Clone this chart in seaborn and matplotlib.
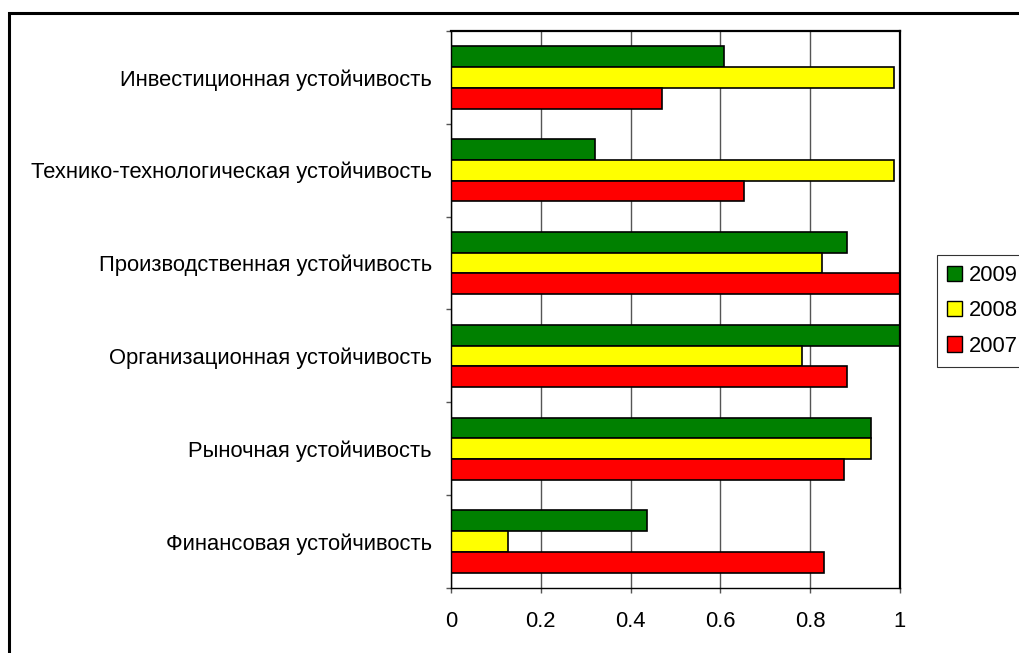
import matplotlib
matplotlib.use("Agg")
import matplotlib.pyplot as plt
from matplotlib.patches import Patch, Rectangle
import pandas as pd
import seaborn as sns

categories = [
    "Инвестиционная устойчивость",
    "Технико-технологическая устойчивость",
    "Производственная устойчивость",
    "Организационная устойчивость",
    "Рыночная устойчивость",
    "Финансовая устойчивость",
]
years = ["2009", "2008", "2007"]
values_2009 = [0.608, 0.321, 0.883, 1.000, 0.935, 0.436]
values_2008 = [0.987, 0.987, 0.826, 0.781, 0.935, 0.128]
values_2007 = [0.471, 0.653, 1.000, 0.883, 0.875, 0.831]
x_ticks = [0, 0.2, 0.4, 0.6, 0.8, 1]
x_tick_labels = ["0", "0.2", "0.4", "0.6", "0.8", "1"]
colors = {"2009": "#008000", "2008": "#FFFF00", "2007": "#FF0000"}

rows = []
for year, vals in zip(years, [values_2009, values_2008, values_2007]):
    for cat, v in zip(categories, vals):
        rows.append({"category": cat, "year": year, "value": v})
df = pd.DataFrame(rows)

sns.set_theme(style="white")
plt.rcParams["font.family"] = ["Liberation Sans", "DejaVu Sans"]
plt.rcParams["text.color"] = "black"

FS = 15.8
W, H = 1020, 653
fig = plt.figure(figsize=(W / 100, H / 100), dpi=100)
ax = fig.add_axes([451 / W, 1 - 588 / H, (900 - 451) / W, (588 - 31) / H])

sns.barplot(data=df, y="category", x="value", hue="year", order=categories,
            hue_order=years, palette=colors, orient="h", width=0.67,
            edgecolor="black", linewidth=1.2, saturation=1, ax=ax, legend=False)

ax.set_xlim(0, 1)
ax.set_ylim(len(categories) - 0.5, -0.5)
ax.set_xlabel("")
ax.set_ylabel("")

# vertical grid lines
ax.set_xticks(x_ticks)
ax.set_xticklabels(x_tick_labels, fontsize=FS)
ax.xaxis.grid(True, color="#555555", linewidth=1.0)
ax.yaxis.grid(False)
ax.set_axisbelow(True)
ax.tick_params(axis="x", bottom=True, length=3.6, width=1, color="#555555",
               pad=13, labelcolor="black")

# category labels centred, tick marks between groups
ax.set_yticks(range(len(categories)))
ax.set_yticklabels(categories, fontsize=FS)
ax.set_yticks([i - 0.5 for i in range(len(categories) + 1)], minor=True)
ax.tick_params(axis="y", which="major", left=False, length=0, pad=13.7,
               labelcolor="black")
ax.tick_params(axis="y", which="minor", left=True, length=3.6, width=1, color="#555555")

for side, sp in ax.spines.items():
    sp.set_visible(True)
    sp.set_color("black")
    sp.set_linewidth(1.6 if side in ("top", "right") else 1.0)

handles = [Patch(facecolor=colors[y], edgecolor="black", linewidth=1.0, label=y) for y in years]
leg = fig.legend(handles=handles, loc="upper left",
                 bbox_to_anchor=(937 / W, 1 - 255 / H), fontsize=FS,
                 frameon=True, fancybox=False, handlelength=0.7, handleheight=0.7,
                 handletextpad=0.3, labelspacing=0.66, borderpad=0.45, borderaxespad=0)
leg.get_frame().set_edgecolor("black")
leg.get_frame().set_linewidth(0.8)

# outer chart-area frame
fig.patches.append(Rectangle((9 / W, -0.05), 1.2, 1 - 13 / H + 0.05,
                             transform=fig.transFigure, fill=False,
                             edgecolor="black", linewidth=2.2))

fig.savefig("out.png", dpi=100, facecolor="white")
